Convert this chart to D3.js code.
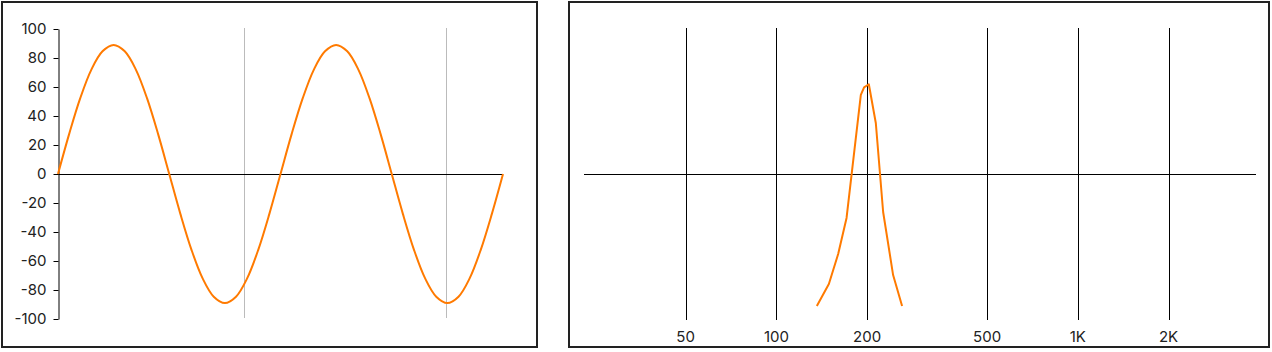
<!DOCTYPE html>
<html>
<head>
<meta charset="utf-8">
<script src="https://cdn.jsdelivr.net/npm/d3@7"></script>
<style>
  html, body { margin: 0; padding: 0; background: #fff; }
  svg { display: block; }
  text { font-family: Inter, "Liberation Sans", Arial, sans-serif; fill: #222; }
</style>
</head>
<body>
<svg id="chart" width="1272" height="352"></svg>
<script>
// ---- Left panel: waveform (two cycles), phase in cycles ----
const wavePhase = [0,0.05,0.1,0.15,0.2,0.25,0.3,0.35,0.4,0.45,0.5,0.55,0.6,0.65,0.7,0.75,0.8,0.85,0.9,0.95,
                   1,1.05,1.1,1.15,1.2,1.25,1.3,1.35,1.4,1.45,1.5,1.55,1.6,1.65,1.7,1.75,1.8,1.85,1.9,1.95,2];
const waveValues = [0,27.5,52.3,72,84.6,89,84.6,72,52.3,27.5,0,-27.5,-52.3,-72,-84.6,-89,-84.6,-72,-52.3,-27.5,
                    0,27.5,52.3,72,84.6,89,84.6,72,52.3,27.5,0,-27.5,-52.3,-72,-84.6,-89,-84.6,-72,-52.3,-27.5,0];
const waveMarkers = [0.837, 1.745];
const waveYTicks = [100,80,60,40,20,0,-20,-40,-60,-80,-100];

// ---- Right panel: spectrum ----
const specFreq = [136.2,149.3,160.3,170.9,190.6,195.4,202.6,213.7,226,243.9,261.2];
const specValues = [-91,-75.9,-55.2,-30.3,54.5,59.8,61.9,35.2,-26.2,-69.7,-91];
const specTicks = [50,100,200,500,1000,2000];
const specTickLabels = ["50","100","200","500","1K","2K"];
const specDomain = [23, 3900];

const svg = d3.select("#chart");
const orange = "#ff7a00";
const font = 'Inter, "Liberation Sans", Arial, sans-serif';

// panel frames
svg.append("rect").attr("x",2).attr("y",2).attr("width",535).attr("height",345)
  .attr("fill","none").attr("stroke","#222").attr("stroke-width",2);
svg.append("rect").attr("x",569).attr("y",2).attr("width",700).attr("height",345)
  .attr("fill","none").attr("stroke","#222").attr("stroke-width",2);

// ---------- Left ----------
const xL = d3.scaleLinear().domain([0,2]).range([58,503]);
const yL = d3.scaleLinear().domain([-100,100]).range([319,29]);

const gL = svg.append("g");
gL.selectAll("line.marker").data(waveMarkers).join("line")
  .attr("class","marker")
  .attr("x1",d=>Math.round(xL(d))+0.5).attr("x2",d=>Math.round(xL(d))+0.5)
  .attr("y1",28).attr("y2",318)
  .attr("stroke","#bbb").attr("stroke-width",1);

gL.append("line")
  .attr("x1",xL(0)).attr("x2",xL(2))
  .attr("y1",Math.round(yL(0))+0.5).attr("y2",Math.round(yL(0))+0.5)
  .attr("stroke","#000").attr("stroke-width",1);

const axisL = d3.axisLeft(yL).tickValues(waveYTicks).tickFormat(d => String(d))
  .tickSize(5).tickSizeOuter(0).tickPadding(7);
const gAx = gL.append("g").attr("transform","translate(58.5,0)").call(axisL);
gAx.select(".domain").attr("stroke","#000");
gAx.selectAll(".tick line").attr("stroke","#000");
gAx.selectAll(".tick text").attr("font-size",15).attr("fill","#222")
   .style("font-family",font);

const lineL = d3.line().x((d,i)=>xL(wavePhase[i])).y(d=>yL(d)).curve(d3.curveCatmullRom);
gL.append("path").datum(waveValues)
  .attr("d",lineL).attr("fill","none").attr("stroke",orange).attr("stroke-width",2);

// ---------- Right ----------
const xR = d3.scaleLog().domain(specDomain).range([584,1256]);
const yR = d3.scaleLinear().domain([-100,100]).range([319,29]);
const gR = svg.append("g");

gR.selectAll("line.vgrid").data(specTicks).join("line")
  .attr("class","vgrid")
  .attr("x1",d=>Math.round(xR(d))+0.5).attr("x2",d=>Math.round(xR(d))+0.5)
  .attr("y1",28).attr("y2",320)
  .attr("stroke","#000").attr("stroke-width",1);

gR.append("line")
  .attr("x1",xR(specDomain[0])).attr("x2",xR(specDomain[1]))
  .attr("y1",Math.round(yR(0))+0.5).attr("y2",Math.round(yR(0))+0.5)
  .attr("stroke","#000").attr("stroke-width",1);

gR.selectAll("text.flabel").data(specTicks).join("text")
  .attr("class","flabel")
  .attr("x",d=>xR(d)).attr("y",342)
  .attr("text-anchor","middle").attr("font-size",15)
  .style("font-family",font)
  .text((d,i)=>specTickLabels[i]);

const lineR = d3.line().x((d,i)=>xR(specFreq[i])).y(d=>yR(d));
gR.append("path").datum(specValues)
  .attr("d",lineR).attr("fill","none").attr("stroke",orange).attr("stroke-width",2)
  .attr("stroke-linejoin","round");
</script>
</body>
</html>
